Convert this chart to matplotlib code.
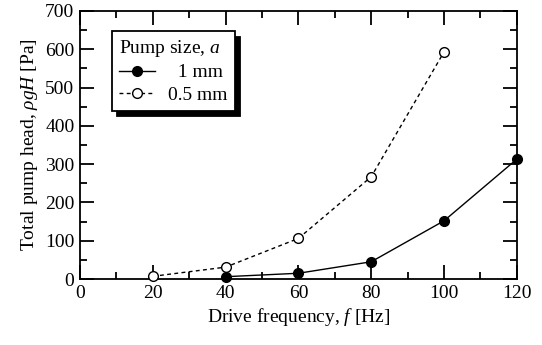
import matplotlib.pyplot as plt
from matplotlib.ticker import MultipleLocator

plt.rcParams['font.family'] = 'Liberation Serif'
plt.rcParams['mathtext.fontset'] = 'custom'
plt.rcParams['mathtext.rm'] = 'Liberation Serif'
plt.rcParams['mathtext.it'] = 'Liberation Serif:italic'

# data
freq_1mm = [40, 60, 80, 100, 120]
head_1mm = [6, 15, 45, 152, 313]
freq_05mm = [20, 40, 60, 80, 100]
head_05mm = [7, 31, 106, 267, 593]

fig = plt.figure(figsize=(5.42, 3.45), dpi=100)
ax = fig.add_axes([0.1476, 0.1913, 0.806, 0.777])

ax.plot(freq_1mm, head_1mm, '-', color='black', lw=1.0, marker='o',
        ms=7, mfc='black', mec='black', label='  1 mm', clip_on=False, zorder=3)
ax.plot(freq_05mm, head_05mm, '--', color='black', lw=1.0, marker='o',
        ms=7, mfc='white', mec='black', label='0.5 mm', dashes=(2.8, 2.4),
        clip_on=False, zorder=3)

ax.set_xlim(0, 120)
ax.set_ylim(0, 700)
ax.xaxis.set_major_locator(MultipleLocator(20))
ax.xaxis.set_minor_locator(MultipleLocator(10))
ax.yaxis.set_major_locator(MultipleLocator(100))
ax.yaxis.set_minor_locator(MultipleLocator(50))
ax.tick_params(which='both', direction='in', top=True, right=True,
               labelsize=14, width=1.3, pad=4)
ax.tick_params(which='major', length=10)
ax.tick_params(which='minor', length=5)
for s in ax.spines.values():
    s.set_linewidth(1.3)

ax.set_xlabel('Drive frequency, $f$ [Hz]', fontsize=14, labelpad=3)
ax.set_ylabel(r'Total pump head, $\rho gH$ [Pa]', fontsize=14, labelpad=4)

leg = ax.legend(title='Pump size, $a$', loc='upper left',
                bbox_to_anchor=(0.073, 0.925), borderaxespad=0,
                fontsize=14, title_fontsize=14,
                frameon=True, fancybox=False, edgecolor='black',
                framealpha=1, handlelength=1.85, handletextpad=0.7,
                borderpad=0.35, labelspacing=0.25,
                shadow={'color': 'black', 'alpha': 1, 'ox': 4, 'oy': -4})
leg.get_frame().set_linewidth(1.3)
leg._legend_box.align = 'left'

plt.savefig('out.png', dpi=100)
